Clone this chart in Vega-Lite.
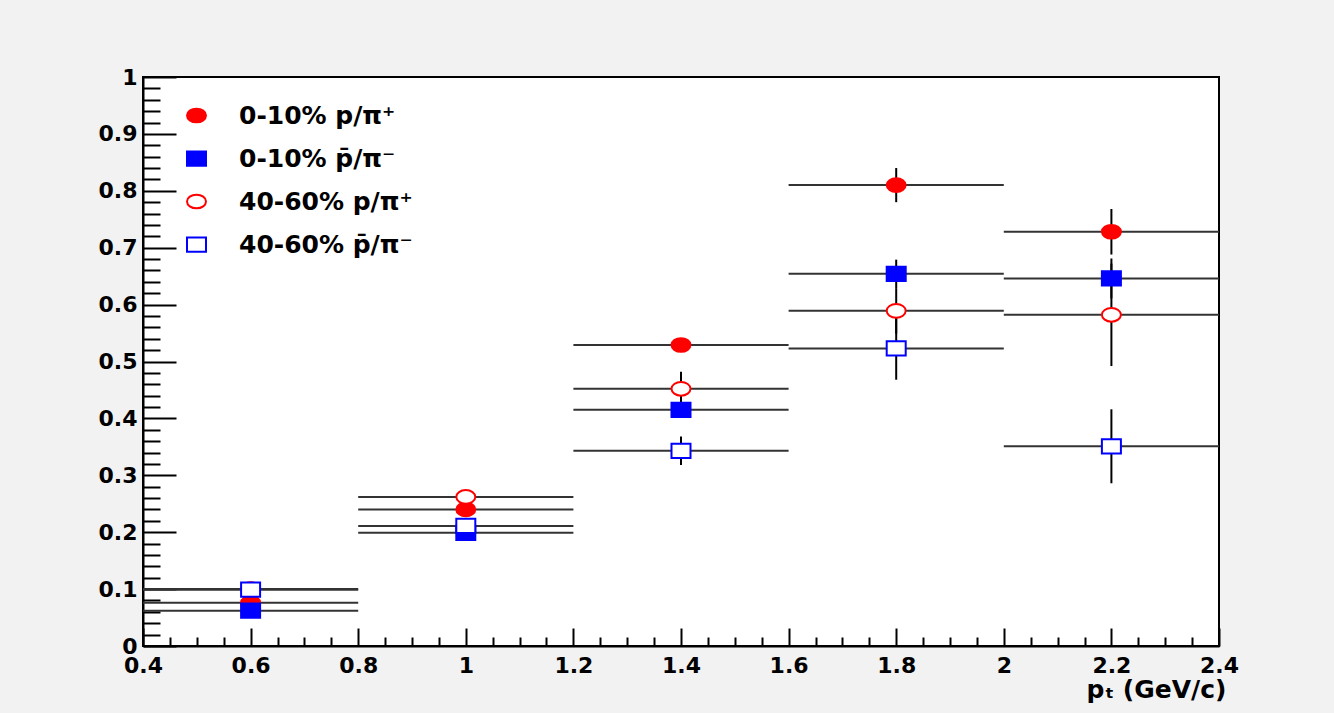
{
  "$schema": "https://vega.github.io/schema/vega-lite/v6.json",
  "width": 1076,
  "height": 569,
  "autosize": {"type": "none"},
  "padding": {"left": 143, "top": 77, "right": 115, "bottom": 67},
  "background": "#f2f2f2",
  "config": {
    "view": {"fill": "#ffffff", "stroke": "#000000", "strokeWidth": 2},
    "font": "DejaVu Sans"
  },
  "data": {
    "values": [
      {"series": "0-10% p/π⁺", "pt": 0.6, "ratio": 0.076, "ylo": 0.071, "yhi": 0.081, "xlo": 0.4, "xhi": 0.8},
      {"series": "0-10% p/π⁺", "pt": 1.0, "ratio": 0.240, "ylo": 0.234, "yhi": 0.246, "xlo": 0.8, "xhi": 1.2},
      {"series": "0-10% p/π⁺", "pt": 1.4, "ratio": 0.529, "ylo": 0.519, "yhi": 0.539, "xlo": 1.2, "xhi": 1.6},
      {"series": "0-10% p/π⁺", "pt": 1.8, "ratio": 0.810, "ylo": 0.780, "yhi": 0.840, "xlo": 1.6, "xhi": 2.0},
      {"series": "0-10% p/π⁺", "pt": 2.2, "ratio": 0.728, "ylo": 0.688, "yhi": 0.768, "xlo": 2.0, "xhi": 2.4},
      {"series": "0-10% p̄/π⁻", "pt": 0.6, "ratio": 0.062, "ylo": 0.058, "yhi": 0.066, "xlo": 0.4, "xhi": 0.8},
      {"series": "0-10% p̄/π⁻", "pt": 1.0, "ratio": 0.199, "ylo": 0.194, "yhi": 0.204, "xlo": 0.8, "xhi": 1.2},
      {"series": "0-10% p̄/π⁻", "pt": 1.4, "ratio": 0.415, "ylo": 0.403, "yhi": 0.427, "xlo": 1.2, "xhi": 1.6},
      {"series": "0-10% p̄/π⁻", "pt": 1.8, "ratio": 0.654, "ylo": 0.629, "yhi": 0.679, "xlo": 1.6, "xhi": 2.0},
      {"series": "0-10% p̄/π⁻", "pt": 2.2, "ratio": 0.646, "ylo": 0.611, "yhi": 0.681, "xlo": 2.0, "xhi": 2.4},
      {"series": "40-60% p/π⁺", "pt": 0.6, "ratio": 0.100, "ylo": 0.092, "yhi": 0.108, "xlo": 0.4, "xhi": 0.8},
      {"series": "40-60% p/π⁺", "pt": 1.0, "ratio": 0.262, "ylo": 0.252, "yhi": 0.272, "xlo": 0.8, "xhi": 1.2},
      {"series": "40-60% p/π⁺", "pt": 1.4, "ratio": 0.452, "ylo": 0.422, "yhi": 0.482, "xlo": 1.2, "xhi": 1.6},
      {"series": "40-60% p/π⁺", "pt": 1.8, "ratio": 0.589, "ylo": 0.549, "yhi": 0.629, "xlo": 1.6, "xhi": 2.0},
      {"series": "40-60% p/π⁺", "pt": 2.2, "ratio": 0.582, "ylo": 0.492, "yhi": 0.672, "xlo": 2.0, "xhi": 2.4},
      {"series": "40-60% p̄/π⁻", "pt": 0.6, "ratio": 0.099, "ylo": 0.091, "yhi": 0.107, "xlo": 0.4, "xhi": 0.8},
      {"series": "40-60% p̄/π⁻", "pt": 1.0, "ratio": 0.211, "ylo": 0.201, "yhi": 0.221, "xlo": 0.8, "xhi": 1.2},
      {"series": "40-60% p̄/π⁻", "pt": 1.4, "ratio": 0.343, "ylo": 0.318, "yhi": 0.368, "xlo": 1.2, "xhi": 1.6},
      {"series": "40-60% p̄/π⁻", "pt": 1.8, "ratio": 0.523, "ylo": 0.468, "yhi": 0.578, "xlo": 1.6, "xhi": 2.0},
      {"series": "40-60% p̄/π⁻", "pt": 2.2, "ratio": 0.351, "ylo": 0.286, "yhi": 0.416, "xlo": 2.0, "xhi": 2.4}
    ]
  },
  "layer": [
    {
      "mark": {"type": "rule", "color": "#333333", "strokeWidth": 2},
      "encoding": {
        "x": {
          "field": "xlo",
          "type": "quantitative",
          "scale": {"domain": [0.4, 2.4], "nice": false, "zero": false},
          "axis": {
            "title": "pₜ (GeV/c)",
            "values": [0.4, 0.45, 0.5, 0.55, 0.6, 0.65, 0.7, 0.75, 0.8, 0.85, 0.9, 0.95, 1.0, 1.05, 1.1, 1.15, 1.2, 1.25, 1.3, 1.35, 1.4, 1.45, 1.5, 1.55, 1.6, 1.65, 1.7, 1.75, 1.8, 1.85, 1.9, 1.95, 2.0, 2.05, 2.1, 2.15, 2.2, 2.25, 2.3, 2.35, 2.4],
            "tickCount": 200,
            "format": ".1~f",
            "labelExpr": "abs(datum.value * 5 - round(datum.value * 5)) < 0.001 ? datum.label : ''",
            "tickSize": {"condition": {"test": "abs(datum.value * 5 - round(datum.value * 5)) < 0.001", "value": -18}, "value": -9},
            "labelPadding": 27,
            "labelFlush": false,
            "labelOverlap": false,
            "grid": false,
            "domainColor": "#000000",
            "domainWidth": 2,
            "tickColor": "#000000",
            "tickWidth": 2,
            "labelFont": "DejaVu Sans",
            "labelFontWeight": "bold",
            "labelFontSize": 22,
            "labelColor": "#000000",
            "titleFont": "DejaVu Sans",
            "titleFontWeight": "bold",
            "titleFontSize": 25,
            "titleColor": "#000000",
            "titleAnchor": "end",
            "titleAlign": "right",
            "titleBaseline": "alphabetic",
            "titleX": 1083,
            "titleY": 51
          }
        },
        "x2": {"field": "xhi"},
        "y": {
          "field": "ratio",
          "type": "quantitative",
          "scale": {"domain": [0, 1], "nice": false, "zero": false},
          "axis": {
            "title": "",
            "values": [0, 0.02, 0.04, 0.06, 0.08, 0.1, 0.12, 0.14, 0.16, 0.18, 0.2, 0.22, 0.24, 0.26, 0.28, 0.3, 0.32, 0.34, 0.36, 0.38, 0.4, 0.42, 0.44, 0.46, 0.48, 0.5, 0.52, 0.54, 0.56, 0.58, 0.6, 0.62, 0.64, 0.66, 0.68, 0.7, 0.72, 0.74, 0.76, 0.78, 0.8, 0.82, 0.84, 0.86, 0.88, 0.9, 0.92, 0.94, 0.96, 0.98, 1.0],
            "tickCount": 200,
            "format": ".1~f",
            "labelExpr": "abs(datum.value * 10 - round(datum.value * 10)) < 0.001 ? datum.label : ''",
            "tickSize": {"condition": {"test": "abs(datum.value * 10 - round(datum.value * 10)) < 0.001", "value": -33}, "value": -17},
            "labelPadding": 39,
            "labelOverlap": false,
            "grid": false,
            "domainColor": "#000000",
            "domainWidth": 2,
            "tickColor": "#000000",
            "tickWidth": 2,
            "labelFont": "DejaVu Sans",
            "labelFontWeight": "bold",
            "labelFontSize": 22,
            "labelColor": "#000000"
          }
        }
      }
    },
    {
      "mark": {"type": "rule", "color": "#000000", "strokeWidth": 2},
      "encoding": {
        "x": {"field": "pt", "type": "quantitative", "axis": {"title": "pₜ (GeV/c)"}},
        "y": {"field": "ylo", "type": "quantitative", "axis": {"title": ""}},
        "y2": {"field": "yhi"}
      }
    },
    {
      "mark": {"type": "point", "opacity": 1, "strokeWidth": 2, "size": 361},
      "encoding": {
        "x": {"field": "pt", "type": "quantitative", "axis": {"title": "pₜ (GeV/c)"}},
        "y": {"field": "ratio", "type": "quantitative", "axis": {"title": ""}},
        "shape": {
          "field": "series",
          "type": "nominal",
          "sort": null,
          "scale": {
            "domain": ["0-10% p/π⁺", "0-10% p̄/π⁻", "40-60% p/π⁺", "40-60% p̄/π⁻"],
            "range": ["M-1,0A1,0.72,0,1,1,1,0A1,0.72,0,1,1,-1,0Z", "M-1,-0.75H1V0.75H-1Z", "M-1,0A1,0.72,0,1,1,1,0A1,0.72,0,1,1,-1,0Z", "M-1,-0.75H1V0.75H-1Z"]
          },
          "legend": {
            "orient": "none",
            "legendX": 41,
            "legendY": 26,
            "title": null,
            "padding": 0,
            "labelFont": "DejaVu Sans",
            "labelFontSize": 25,
            "labelFontWeight": "bold",
            "labelOffset": 30,
            "rowPadding": 17,
            "symbolSize": 361,
            "symbolStrokeWidth": 2,
            "labelLimit": 400,
            "encode": {
              "labels": {"update": {"fill": {"signal": "indexof(datum.label, '⁺') >= 0 ? '#ff0000' : '#0000ff'"}}}
            }
          }
        },
        "fill": {
          "field": "series",
          "type": "nominal",
          "sort": null,
          "scale": {
            "domain": ["0-10% p/π⁺", "0-10% p̄/π⁻", "40-60% p/π⁺", "40-60% p̄/π⁻"],
            "range": ["#ff0000", "#0000ff", "#ffffff", "#ffffff"]
          },
          "legend": {
            "orient": "none",
            "legendX": 41,
            "legendY": 26,
            "title": null,
            "padding": 0,
            "labelFont": "DejaVu Sans",
            "labelFontSize": 25,
            "labelFontWeight": "bold",
            "labelOffset": 30,
            "rowPadding": 17,
            "symbolSize": 361,
            "symbolStrokeWidth": 2,
            "labelLimit": 400,
            "encode": {
              "labels": {"update": {"fill": {"signal": "indexof(datum.label, '⁺') >= 0 ? '#ff0000' : '#0000ff'"}}}
            }
          }
        },
        "stroke": {
          "field": "series",
          "type": "nominal",
          "sort": null,
          "scale": {
            "domain": ["0-10% p/π⁺", "0-10% p̄/π⁻", "40-60% p/π⁺", "40-60% p̄/π⁻"],
            "range": ["#ff0000", "#0000ff", "#ff0000", "#0000ff"]
          },
          "legend": {
            "orient": "none",
            "legendX": 41,
            "legendY": 26,
            "title": null,
            "padding": 0,
            "labelFont": "DejaVu Sans",
            "labelFontSize": 25,
            "labelFontWeight": "bold",
            "labelOffset": 30,
            "rowPadding": 17,
            "symbolSize": 361,
            "symbolStrokeWidth": 2,
            "labelLimit": 400,
            "encode": {
              "labels": {"update": {"fill": {"signal": "indexof(datum.label, '⁺') >= 0 ? '#ff0000' : '#0000ff'"}}}
            }
          }
        }
      }
    }
  ]
}
